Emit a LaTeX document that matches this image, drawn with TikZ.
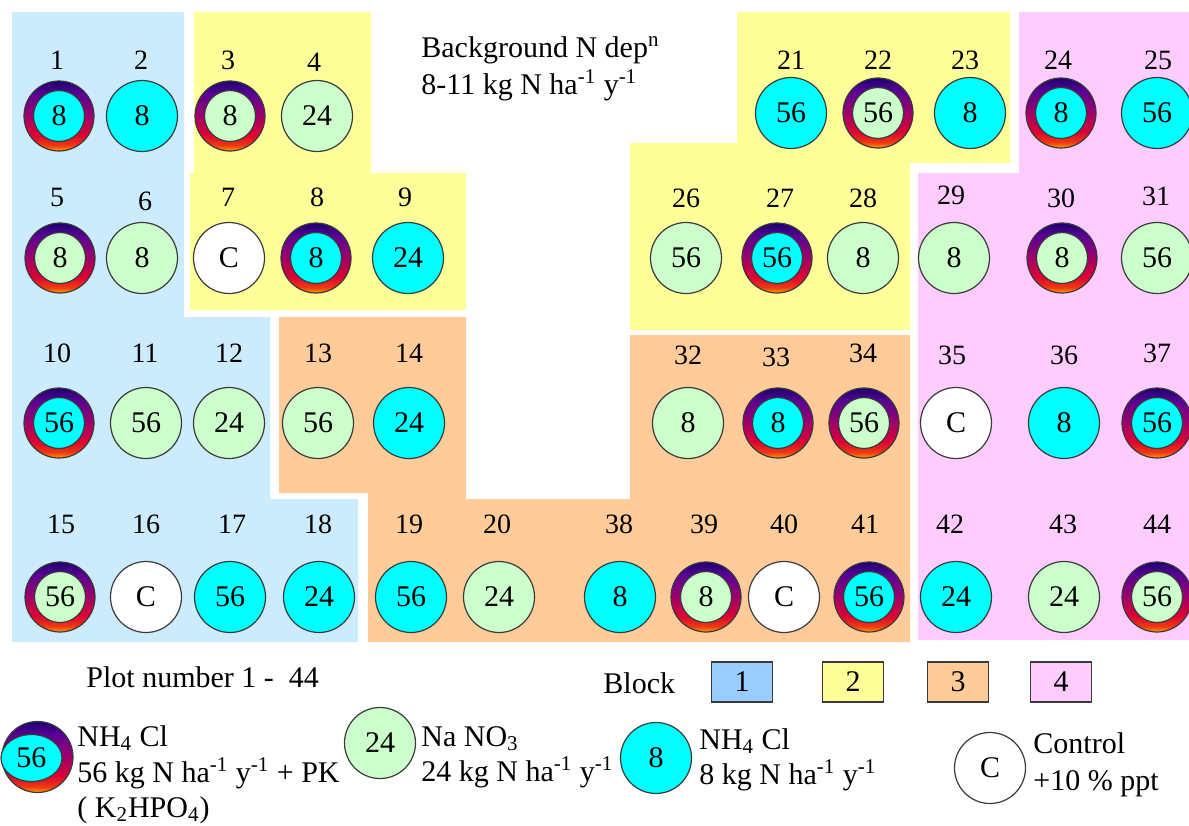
\documentclass[tikz,border=0pt]{standalone}
\usepackage{fontspec}
\setmainfont{Liberation Serif}
\usetikzlibrary{shapes.geometric}

\definecolor{blkA}{HTML}{CCEBFC}
\definecolor{blkB}{HTML}{FFFF99}
\definecolor{blkC}{HTML}{FFCC99}
\definecolor{blkD}{HTML}{FFCCFF}
\definecolor{keyA}{HTML}{99CCFF}
\definecolor{nhfill}{HTML}{00FFFF}
\definecolor{nofill}{HTML}{CCFFCC}
\definecolor{rimline}{HTML}{3A3A3A}
\definecolor{shA}{HTML}{FFA000}
\definecolor{shB}{HTML}{F03A10}
\definecolor{shC}{HTML}{DC0036}
\definecolor{shD}{HTML}{960070}
\definecolor{shE}{HTML}{5A0096}
\definecolor{shF}{HTML}{1C006E}

% ring shading for the PK-amended plots: navy top, purple, red, orange bottom
\pgfdeclareverticalshading{nring}{100bp}{color(0bp)=(shA); color(25bp)=(shA);
  color(29bp)=(shB); color(37bp)=(shC); color(52bp)=(shD); color(66bp)=(shE);
  color(75bp)=(shF); color(100bp)=(shF)}

\tikzset{
  discbase/.style={circle, draw=rimline, line width=0.6pt, minimum size=35.5pt,
    inner sep=0pt, font=\fontsize{15}{18}\selectfont},
  nhdisc/.style={discbase, fill=nhfill},
  nodisc/.style={discbase, fill=nofill},
  ctldisc/.style={discbase, fill=white},
  rimdisc/.style={discbase, minimum size=35pt, shading=nring},
  coredisc/.style={discbase, minimum size=25.5pt},
  plotnum/.style={inner sep=0pt, font=\fontsize{14}{16}\selectfont},
  bodytext/.style={inner sep=0pt, anchor=base west, font=\fontsize{15}{18}\selectfont},
  keybox/.style={draw=rimline, line width=0.6pt, minimum width=30.5pt,
    minimum height=20pt, inner sep=0pt, font=\fontsize{15}{18}\selectfont},
}

% #1 style, #2 plot number, #3 x, #4 y, #5 dose, #6 label x, #7 label y
\newcommand\plotdisc[7]{%
  \node[#1] (p#2) at (#3,#4) {#5};
  \node[plotnum] (n#2) at (#6,#7) {#2};}
% #1 core colour, then as above
\newcommand\plotrim[7]{%
  \node[rimdisc] (r#2) at (#3,#4) {};
  \node[coredisc, fill=#1] (p#2) at (r#2.center) {#5};
  \node[plotnum] (n#2) at (#6,#7) {#2};}

\begin{document}
\begin{tikzpicture}[x=0.5pt, y=-0.5pt]
\useasboundingbox (0,0) rectangle (1189,825);

% ---- blocks ----
\fill[blkA] (12,12) -- (184,12) -- (184,317) -- (270,317) -- (270,499) -- (358,499)
  -- (358,642) -- (12,642) -- cycle;
\fill[blkB] (194,12) -- (371,12) -- (371,173) -- (466,173) -- (466,310) -- (190,310)
  -- (190,173) -- (194,173) -- cycle;
\fill[blkB] (737,12) -- (1010,12) -- (1010,163) -- (910,163) -- (910,330) -- (630,330)
  -- (630,143) -- (737,143) -- cycle;
\fill[blkC] (279,317) -- (466,317) -- (466,499) -- (630,499) -- (630,335) -- (910,335)
  -- (910,642) -- (368,642) -- (368,493) -- (279,493) -- cycle;
\fill[blkD] (1019,12) -- (1189,12) -- (1189,640) -- (918,640) -- (918,173) -- (1019,173)
  -- cycle;

% ---- heading ----
\node[bodytext] (hdrA) at (421,57) {Background N dep\textsuperscript{n}};
\node[bodytext] (hdrB) at (421,94) {8-11 kg N ha\textsuperscript{-1} y\textsuperscript{-1}};

% ---- row 1 ----
\plotrim{nhfill}{1}{59}{116}{8}{57}{60}
\plotdisc{nhdisc}{2}{142}{116}{8}{141}{60}
\plotrim{nofill}{3}{230}{116}{8}{228}{60}
\plotdisc{nodisc}{4}{317}{116}{24}{314}{62}
\plotdisc{nhdisc}{21}{791}{113}{56}{791}{60}
\plotrim{nofill}{22}{878}{113}{56}{878}{60}
\plotdisc{nhdisc}{23}{970}{113}{8}{965}{60}
\plotrim{nhfill}{24}{1061}{113}{8}{1058}{60}
\plotdisc{nhdisc}{25}{1157}{113}{56}{1158}{60}

% ---- row 2 ----
\plotrim{nofill}{5}{60}{258}{8}{57}{197}
\plotdisc{nodisc}{6}{142}{258}{8}{145}{201}
\plotdisc{ctldisc}{7}{229}{258}{C}{228}{197}
\plotrim{nhfill}{8}{316}{258}{8}{317}{197}
\plotdisc{nhdisc}{9}{408}{258}{24}{405}{197}
\plotdisc{nodisc}{26}{686}{258}{56}{686}{198}
\plotrim{nhfill}{27}{777}{258}{56}{780}{198}
\plotdisc{nodisc}{28}{863}{258}{8}{863}{198}
\plotdisc{nodisc}{29}{954}{258}{8}{951}{195}
\plotrim{nofill}{30}{1062}{258}{8}{1061}{198}
\plotdisc{nodisc}{31}{1157}{258}{56}{1156}{196}

% ---- row 3 ----
\plotrim{nhfill}{10}{59}{423}{56}{57}{353}
\plotdisc{nodisc}{11}{146}{423}{56}{145}{353}
\plotdisc{nodisc}{12}{229}{423}{24}{229}{353}
\plotdisc{nodisc}{13}{318}{423}{56}{318}{353}
\plotdisc{nhdisc}{14}{409}{423}{24}{409}{353}
\plotdisc{nodisc}{32}{688}{423}{8}{688}{355}
\plotrim{nhfill}{33}{778}{423}{8}{776}{357}
\plotrim{nofill}{34}{864}{423}{56}{863}{353}
\plotdisc{ctldisc}{35}{956}{423}{C}{952}{355}
\plotdisc{nhdisc}{36}{1064}{423}{8}{1064}{355}
\plotrim{nhfill}{37}{1157}{423}{56}{1157}{353}

% ---- row 4 ----
\plotrim{nofill}{15}{60}{597}{56}{61}{524}
\plotdisc{ctldisc}{16}{146}{597}{C}{146}{524}
\plotdisc{nhdisc}{17}{230}{597}{56}{232}{524}
\plotdisc{nhdisc}{18}{319}{597}{24}{318}{524}
\plotdisc{nhdisc}{19}{411}{597}{56}{409}{524}
\plotdisc{nodisc}{20}{499}{597}{24}{497}{524}
\plotdisc{nhdisc}{38}{620}{597}{8}{619}{524}
\plotrim{nofill}{39}{706}{597}{8}{704}{524}
\plotdisc{ctldisc}{40}{784}{597}{C}{784}{524}
\plotrim{nhfill}{41}{869}{597}{56}{865}{524}
\plotdisc{nhdisc}{42}{956}{597}{24}{950}{524}
\plotdisc{nodisc}{43}{1064}{597}{24}{1063}{524}
\plotrim{nofill}{44}{1157}{597}{56}{1157}{524}

% ---- plot number note and block key ----
\node[bodytext] (pnote) at (86,687) {Plot number 1 -\ \ 44};
\node[bodytext] (blk) at (603,693) {Block};
\node[keybox, fill=keyA] (kA) at (742,682) {1};
\node[keybox, fill=blkB] (kB) at (853,682) {2};
\node[keybox, fill=blkC] (kC) at (958,682) {3};
\node[keybox, fill=blkD] (kD) at (1061,682) {4};

% ---- treatment key ----
\node[rimdisc, minimum size=35.5pt] (kr) at (37.5,757) {};
\node[ellipse, draw=rimline, line width=0.6pt, fill=nhfill, minimum width=30.5pt,
  minimum height=23.5pt, inner sep=0pt, font=\fontsize{15}{18}\selectfont] (k56) at (31.5,758) {56};
\node[bodytext] (t56a) at (77,746) {NH\textsubscript{4} Cl};
\node[bodytext] (t56b) at (77,782) {56 kg N ha\textsuperscript{-1} y\textsuperscript{-1} + PK};
\node[bodytext] (t56c) at (77,817) {( K\textsubscript{2}HPO\textsubscript{4})};

\node[nodisc] (k24) at (380,743) {24};
\node[bodytext] (t24a) at (421,746) {Na NO\textsubscript{3}};
\node[bodytext] (t24b) at (421,781) {24 kg N ha\textsuperscript{-1} y\textsuperscript{-1}};

\node[nhdisc] (k8) at (656,758) {8};
\node[bodytext] (t8a) at (699,749) {NH\textsubscript{4} Cl};
\node[bodytext] (t8b) at (699,784) {8 kg N ha\textsuperscript{-1} y\textsuperscript{-1}};

\node[ctldisc] (kc) at (990,768) {C};
\node[bodytext] (tca) at (1033,753) {Control};
\node[bodytext] (tcb) at (1033,790) {+10 \% ppt};
\end{tikzpicture}
\end{document}
